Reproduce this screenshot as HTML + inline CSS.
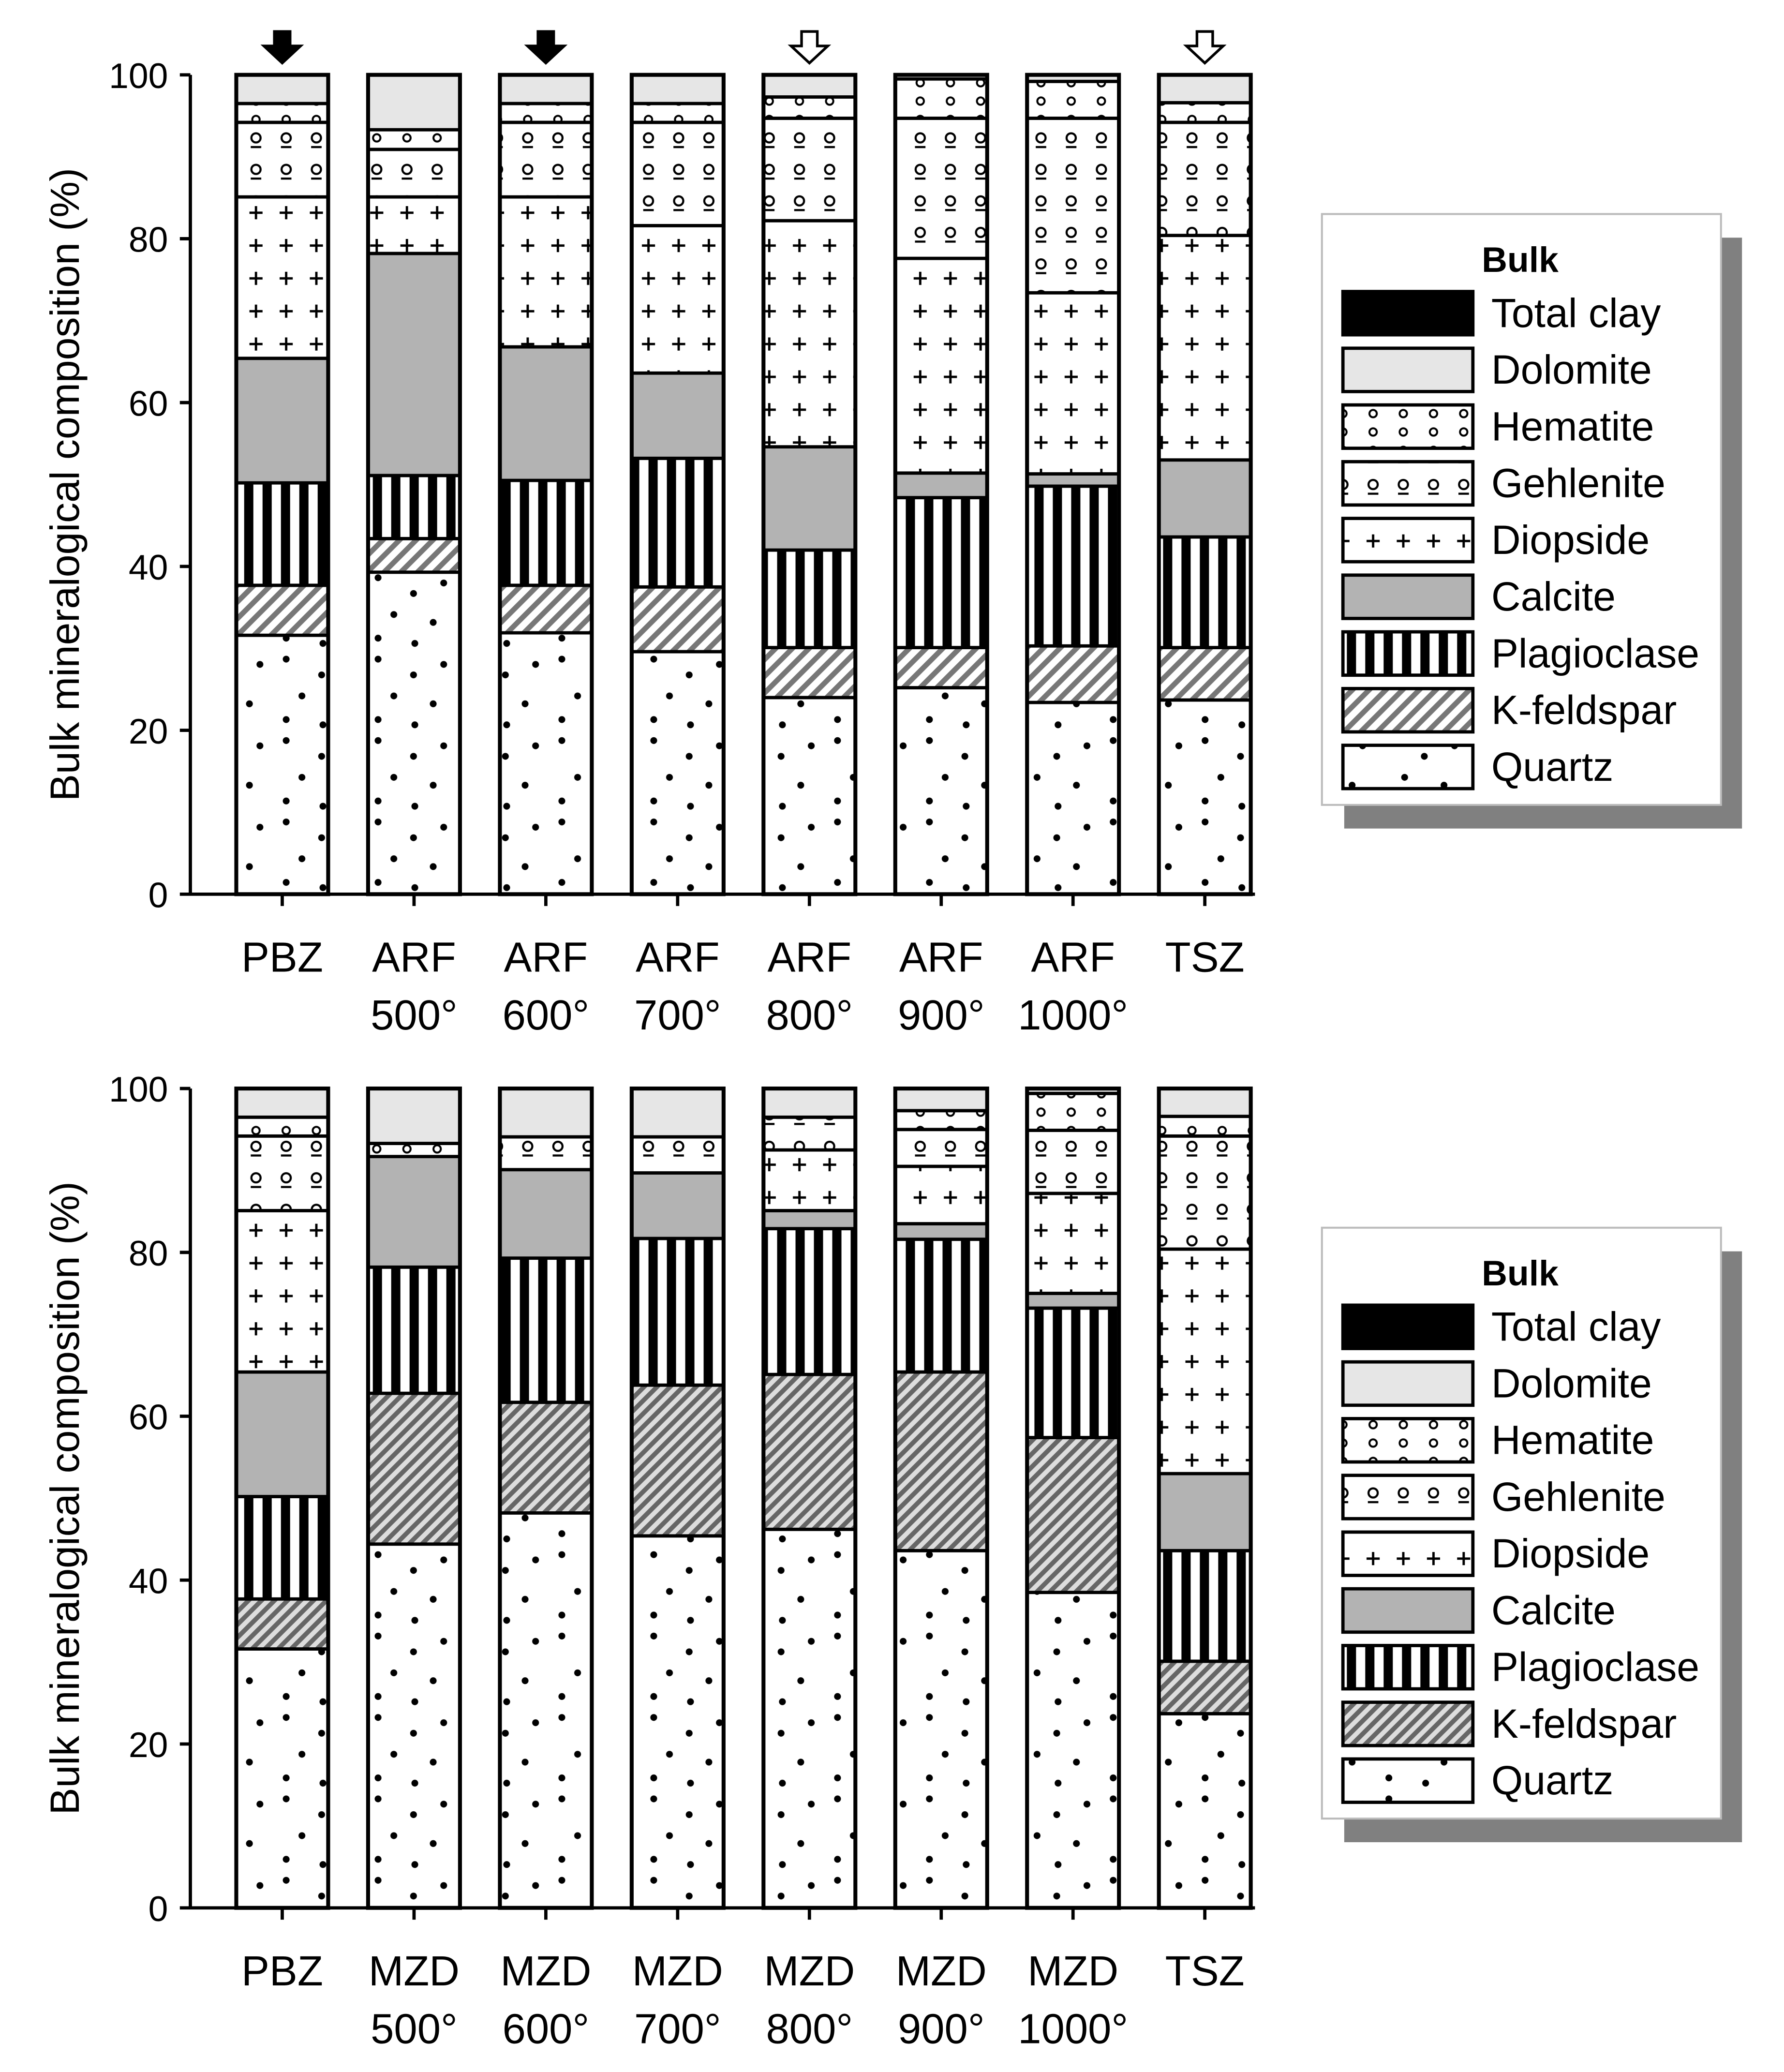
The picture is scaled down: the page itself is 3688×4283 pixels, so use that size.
<!DOCTYPE html>
<html><head><meta charset="utf-8"><style>html,body{margin:0;padding:0;background:#fff}svg{display:block}</style></head>
<body>
<svg id="chart" xmlns="http://www.w3.org/2000/svg" width="3688" height="4283" viewBox="0 0 1359 1578" preserveAspectRatio="none" font-family="'Liberation Sans', Arial, sans-serif">
<defs>
<pattern id="p-quartz" patternUnits="userSpaceOnUse" width="70" height="62"><rect width="70" height="62" fill="#fff"/><circle cx="8" cy="6" r="2.6"/><circle cx="35" cy="18" r="2.6"/><circle cx="58" cy="10" r="2.6"/><circle cx="20" cy="34" r="2.6"/><circle cx="50" cy="40" r="2.6"/><circle cx="8" cy="52" r="2.6"/><circle cx="36" cy="56" r="2.6"/></pattern>
<pattern id="p-kfeld" patternUnits="userSpaceOnUse" width="9" height="9" patternTransform="rotate(45)"><rect width="9" height="9" fill="#fff"/><rect width="4" height="9" fill="#777"/></pattern>
<pattern id="p-kfeld2" patternUnits="userSpaceOnUse" width="7" height="7" patternTransform="rotate(45)"><rect width="7" height="7" fill="#ddd"/><rect width="3.5" height="7" fill="#666"/></pattern>
<pattern id="p-plag" patternUnits="userSpaceOnUse" width="14" height="10"><rect width="14" height="10" fill="#fff"/><rect x="4" width="7" height="10" fill="#000"/></pattern>
<pattern id="p-diop" patternUnits="userSpaceOnUse" width="23" height="25"><rect width="23" height="25" fill="#fff"/><path d="M6 12h10M11 7v10" stroke="#000" stroke-width="1.8"/></pattern>
<pattern id="p-gehl" patternUnits="userSpaceOnUse" width="23" height="24"><rect width="23" height="24" fill="#fff"/><circle cx="11" cy="9" r="3.5" fill="none" stroke="#000" stroke-width="1.6"/><path d="M7 16h8" stroke="#000" stroke-width="1.6"/></pattern>
<pattern id="p-hem" patternUnits="userSpaceOnUse" width="23" height="14"><rect width="23" height="14" fill="#fff"/><circle cx="11" cy="7" r="2.8" fill="none" stroke="#000" stroke-width="1.5"/></pattern>
</defs>
<g id="plots"></g>
</svg>
<script>
const minerals = ["Quartz","K-feldspar","Plagioclase","Calcite","Diopside","Gehlenite","Hematite","Dolomite","Total clay"];
const topCats = [["PBZ"],["ARF","500°"],["ARF","600°"],["ARF","700°"],["ARF","800°"],["ARF","900°"],["ARF","1000°"],["TSZ"]];
const botCats = [["PBZ"],["MZD","500°"],["MZD","600°"],["MZD","700°"],["MZD","800°"],["MZD","900°"],["MZD","1000°"],["TSZ"]];
// values per bar: Quartz, K-feldspar, Plagioclase, Calcite, Diopside, Gehlenite, Hematite, Dolomite, Total clay
const topValues = [
 [31.6,6.1,12.5,15.2,19.7,9.1,2.3,3.5,0],
 [39.3,4.1,7.7,27.1,6.9,5.8,2.4,6.7,0],
 [31.9,5.8,12.8,16.3,18.3,9.1,2.3,3.5,0],
 [29.6,7.9,15.7,10.4,18.0,12.6,2.3,3.5,0],
 [24.0,6.1,11.9,12.6,27.6,12.5,2.6,2.7,0],
 [25.2,4.9,18.3,3.0,26.2,17.1,4.8,0.5,0],
 [23.4,6.9,19.5,1.5,22.1,21.3,4.5,0.8,0],
 [23.7,6.4,13.5,9.4,27.4,13.8,2.4,3.4,0]
];
const botValues = [
 [31.6,6.1,12.5,15.2,19.7,9.1,2.3,3.5,0],
 [44.4,18.4,15.4,13.5,0,0,1.6,6.7,0],
 [48.2,13.5,17.6,10.8,0,4.0,0,5.9,0],
 [45.4,18.4,17.9,8.0,0,4.4,0,5.9,0],
 [46.2,18.9,17.8,2.2,7.4,4.0,0,3.5,0],
 [43.6,21.8,16.2,1.9,7.0,4.5,2.3,2.7,0],
 [38.5,18.9,15.8,1.8,12.2,7.7,4.5,0.6,0],
 [23.7,6.4,13.5,9.4,27.4,13.8,2.4,3.4,0]
];
const yTicks = [0,20,40,60,80,100];
const fills = ["url(#p-quartz)","url(#p-kfeld)","url(#p-plag)","#b3b3b3","url(#p-diop)","url(#p-gehl)","url(#p-hem)","#e6e6e6","#000"];
const topArrows = ["filled","","filled","","hollow","","","hollow"];

const NS="http://www.w3.org/2000/svg";
const root=document.getElementById("plots");
function mk(tag,attrs,parent){const e=document.createElementNS(NS,tag);for(const k in attrs)e.setAttribute(k,attrs[k]);(parent||root).appendChild(e);return e;}

function drawPanel(y0,y100,cats,vals,kfFill,arrows,legY,pname){
  const g=mk("g",{});
  
  
  const yS=v=>y0-(y0-y100)*v/100;
  const xC=i=>215+i*100.4;
  const bw=70;
  vals.forEach((row,i)=>{
    const bg=mk("g",{},g);
    
    
    let cum=0;
    row.forEach((v,j)=>{
      if(v<=0)return;
      const yt=yS(cum+v), yb=yS(cum);
      const r=mk("rect",{x:xC(i)-bw/2,y:yt,width:bw,height:yb-yt,fill:(j==1?kfFill:fills[j]),stroke:"#000","stroke-width":2.5},bg);
      
      
      cum+=v;
    });
    mk("rect",{x:xC(i)-bw/2,y:yS(100),width:bw,height:yS(0)-yS(100),fill:"none",stroke:"#000","stroke-width":3},bg);
    mk("line",{x1:xC(i),x2:xC(i),y1:y0,y2:y0+9,stroke:"#000","stroke-width":2.5},g);
    const t=mk("text",{x:xC(i),y:y0+59,"font-size":32,"text-anchor":"middle"},g);
    
    
    t.textContent=cats[i][0];
    if(cats[i][1]){const t2=mk("text",{x:xC(i),y:y0+103,"font-size":32,"text-anchor":"middle"},g);
      
      
      t2.textContent=cats[i][1];}
    if(arrows&&arrows[i]){
      const a=mk("path",{d:`M${xC(i)-6} ${y100-33}h12v11h8l-14 13l-14 -13h8z`,fill:arrows[i]=="filled"?"#000":"#fff",stroke:"#000","stroke-width":2},g);
      
      
    }
  });
  mk("line",{x1:145,x2:956,y1:y0,y2:y0,stroke:"#000","stroke-width":2.5},g);
  mk("line",{x1:145,x2:145,y1:y100,y2:y0,stroke:"#000","stroke-width":2.5},g);
  yTicks.forEach(v=>{
    mk("line",{x1:137,x2:145,y1:yS(v),y2:yS(v),stroke:"#000","stroke-width":2.5},g);
    const t=mk("text",{x:128,y:yS(v)+10,"font-size":27,"text-anchor":"end"},g);
    
    
    t.textContent=v;
  });
  const yc=(y0+y100)/2;
  const yt=mk("text",{x:60,y:yc,"font-size":31,"text-anchor":"middle",transform:`rotate(-90 60 ${yc})`},g);
  
  
  yt.textContent="Bulk mineralogical composition (%)";
  const lg=mk("g",{},g);
  
  
  mk("rect",{x:1024,y:legY+18,width:303,height:450,fill:"#808080"},lg);
  mk("rect",{x:1007,y:legY,width:304,height:450,fill:"#fff",stroke:"#bbb","stroke-width":1.5},lg);
  const tt=mk("text",{x:1158,y:legY+44,"font-size":27,"font-weight":"bold","text-anchor":"middle"},lg);
  
  
  tt.textContent="Bulk";
  const order=[8,7,6,5,4,3,2,1,0];
  order.forEach((j,k)=>{
    const cy=legY+75+k*43.2;
    const e=mk("g",{},lg);
    
    
    mk("rect",{x:1023,y:cy-16,width:99,height:33,fill:(j==1?kfFill:fills[j]),stroke:"#000","stroke-width":2.5},e);
    const t=mk("text",{x:1136,y:cy+11,"font-size":31},e);
    t.textContent=minerals[j];
  });
}
drawPanel(681,57,topCats,topValues,"url(#p-kfeld)",topArrows,163,"top-panel");
drawPanel(1453,829,botCats,botValues,"url(#p-kfeld2)",null,935,"bottom-panel");
</script>
</body></html>
